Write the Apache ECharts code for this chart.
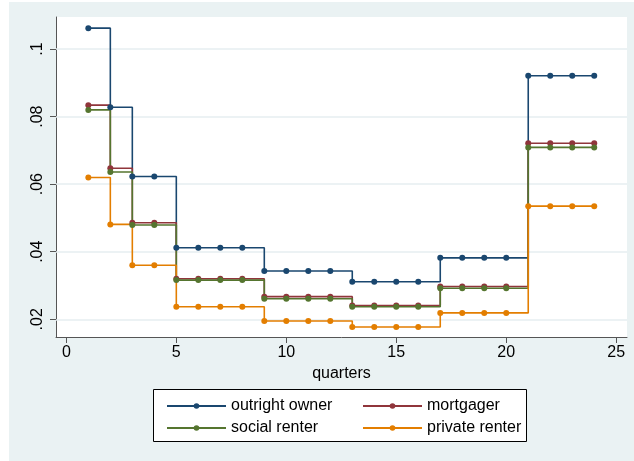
<!DOCTYPE html>
<html>
<head>
<meta charset="utf-8">
<script src="https://cdn.jsdelivr.net/npm/echarts@6/dist/echarts.min.js"></script>
<style>
html,body{margin:0;padding:0;background:#fff;}
#chart{width:634px;height:461px;}
</style>
</head>
<body>
<div id="chart"></div>
<script>
// ---- data ----
const quarters = [1,2,3,4,5,6,7,8,9,10,11,12,13,14,15,16,17,18,19,20,21,22,23,24];
const outrightOwner = [0.1062,0.0828,0.0623,0.0623,0.0412,0.0412,0.0412,0.0412,0.0343,0.0343,0.0343,0.0343,0.0311,0.0311,0.0311,0.0311,0.0382,0.0382,0.0382,0.0382,0.0921,0.0921,0.0921,0.0921];
const mortgager = [0.0834,0.0647,0.0486,0.0486,0.0320,0.0320,0.0320,0.0320,0.0267,0.0267,0.0267,0.0267,0.0241,0.0241,0.0241,0.0241,0.0297,0.0297,0.0297,0.0297,0.0721,0.0721,0.0721,0.0721];
const socialRenter = [0.0820,0.0636,0.0479,0.0479,0.0316,0.0316,0.0316,0.0316,0.0261,0.0261,0.0261,0.0261,0.0237,0.0237,0.0237,0.0237,0.0292,0.0292,0.0292,0.0292,0.0709,0.0709,0.0709,0.0709];
const privateRenter = [0.0620,0.0481,0.0360,0.0360,0.0237,0.0237,0.0237,0.0237,0.0195,0.0195,0.0195,0.0195,0.0177,0.0177,0.0177,0.0177,0.0219,0.0219,0.0219,0.0219,0.0535,0.0535,0.0535,0.0535];
const seriesNames = ['outright owner','mortgager','social renter','private renter'];
const xTickValues = [0,5,10,15,20,25];
const yTickValues = [0.02,0.04,0.06,0.08,0.1];
const yTickLabels = ['.02','.04','.06','.08','.1'];

const colors = ['#1a476f','#90353b','#55752f','#e37e00'];
const font = 'Liberation Sans, Arial, Helvetica, sans-serif';

function pairs(vals){ return quarters.map((q,i)=>[q, vals[i]]); }

function lineSeries(name, vals, color){
  return {
    name: name, type: 'line', step: 'end', zlevel: 1, z: 3,
    data: pairs(vals),
    symbol: 'circle', symbolSize: 6,
    lineStyle: {color: color, width: 1.6},
    itemStyle: {color: color},
    emphasis: {disabled: true}
  };
}

const chart = echarts.init(document.getElementById('chart'), null, {renderer:'canvas'});
chart.setOption({
  animation: false,
  backgroundColor: '#eaf2f3',
  textStyle: {fontFamily: font},
  grid: {left: 56, top: 17, width: 571, height: 320, show: true, backgroundColor: '#ffffff', borderWidth: 0},
  xAxis: {
    type: 'value', min: -0.47, max: 25.49,
    name: 'quarters', nameLocation: 'middle', nameGap: 26,
    nameTextStyle: {fontSize: 16, color: '#000', fontFamily: font},
    axisLine: {show: true, onZero: false, lineStyle: {color: '#555', width: 1}},
    axisTick: {show: true, length: 6, customValues: xTickValues, lineStyle: {color: '#555'}},
    axisLabel: {customValues: xTickValues, fontSize: 16, color: '#000', margin: 8, fontFamily: font},
    splitLine: {show: false}
  },
  yAxis: {
    type: 'value', min: 0.01476, max: 0.1095,
    axisLine: {show: true, onZero: false, lineStyle: {color: '#555', width: 1}},
    axisTick: {show: true, length: 6, customValues: yTickValues, lineStyle: {color: '#555'}},
    axisLabel: {customValues: yTickValues, rotate: 90, fontSize: 16, color: '#000', margin: 10, fontFamily: font,
      formatter: function(v){ const i = yTickValues.findIndex(t => Math.abs(t - v) < 1e-6); return i >= 0 ? yTickLabels[i] : ''; }},
    splitLine: {show: false}
  },
  legend: [
    {data: [seriesNames[0], seriesNames[2]], orient: 'vertical', left: 161, top: 393, itemWidth: 59, itemHeight: 7, itemGap: 6, z: 5,
     textStyle: {fontSize: 16, color: '#000', fontFamily: font}},
    {data: [seriesNames[1], seriesNames[3]], orient: 'vertical', left: 357, top: 393, itemWidth: 59, itemHeight: 7, itemGap: 6, z: 5,
     textStyle: {fontSize: 16, color: '#000', fontFamily: font}}
  ],
  graphic: [
    {type: 'rect', left: 0, top: 0, shape: {width: 9, height: 461}, style: {fill: '#fff'}, z: 0, silent: true},
    {type: 'rect', left: 0, top: 0, shape: {width: 634, height: 2}, style: {fill: '#fff'}, z: 0, silent: true},
    {type: 'rect', x: 153.5, y: 389.5, shape: {width: 373, height: 52}, style: {fill: '#fff', stroke: '#000', lineWidth: 1}, z: 1, silent: true}
  ],
  series: [
    {type: 'line', name: 'grid', data: [], zlevel: 0, z: 1, silent: true,
     markLine: {silent: true, symbol: 'none', label: {show: false},
       lineStyle: {color: '#e6eef0', width: 1.5, type: 'solid'},
       data: yTickValues.map(v => ({yAxis: v}))}},
    lineSeries(seriesNames[0], outrightOwner, colors[0]),
    lineSeries(seriesNames[1], mortgager, colors[1]),
    lineSeries(seriesNames[2], socialRenter, colors[2]),
    lineSeries(seriesNames[3], privateRenter, colors[3])
  ]
});
</script>
</body>
</html>
